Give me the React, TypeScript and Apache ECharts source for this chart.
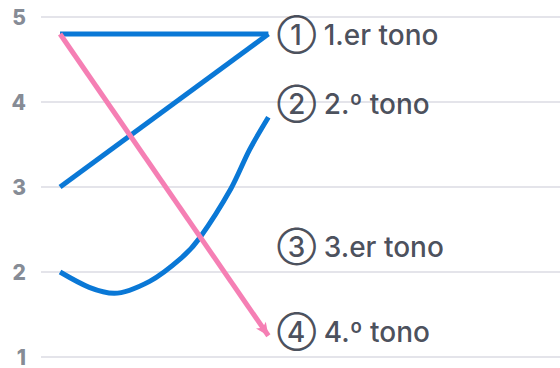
import React, { useEffect, useRef } from "react";
import * as echarts from "echarts";

const yTicks = [1, 2, 3, 4, 5];
const tone1 = [[0, 4.8], [1, 4.8]];
const tone2 = [[0, 3.0], [1, 4.8]];
const tone3 = [
  [0, 2.0], [0.14, 1.82], [0.26, 1.75], [0.43, 1.89], [0.58, 2.16],
  [0.67, 2.4], [0.82, 2.98], [0.91, 3.44], [1, 3.82],
];
const tone4 = [[0, 4.8], [1, 1.25]];
const labelNames = ["① 1.er tono", "② 2.º tono", "③ 3.er tono", "④ 4.º tono"];
const labelY = [4.79, 3.98, 2.3, 1.3];
const labelX = 1;

const X_MIN = -0.0915;
const BLUE = "#0a78d6";
const PINK = "#f57fb4";

export default function App() {
  const ref = useRef<HTMLDivElement>(null);
  useEffect(() => {
    if (!ref.current) return;
    const chart = echarts.init(ref.current, undefined, { renderer: "svg" });
    const lineStyle = (c: string) => ({ color: c, width: 5, cap: "butt" as const, join: "miter" as const });
    const t4 = tone4.map((p, i) =>
      i === tone4.length - 1
        ? { value: p, symbol: "arrow", symbolSize: [9, 13], symbolRotate: -145, itemStyle: { color: PINK } }
        : { value: p, symbol: "none" }
    );
    chart.setOption({
      animation: false,
      grid: { left: 41, right: 0, top: 17, bottom: 11 },
      xAxis: {
        type: "value",
        min: X_MIN,
        max: 2.4,
        show: false,
      },
      yAxis: {
        type: "value",
        min: yTicks[0],
        max: yTicks[yTicks.length - 1],
        interval: 1,
        axisLine: { show: false },
        axisTick: { show: false },
        axisLabel: { show: false },
        splitLine: { lineStyle: { color: "#e4e4ea", width: 2 } },
      },
      series: [
        { type: "line", data: tone1, showSymbol: false, symbol: "none", lineStyle: lineStyle(BLUE), z: 2 },
        { type: "line", data: tone2, showSymbol: false, symbol: "none", lineStyle: lineStyle(BLUE), z: 2 },
        { type: "line", data: tone3, smooth: 0.3, showSymbol: false, symbol: "none", lineStyle: lineStyle(BLUE), z: 2 },
        { type: "line", data: t4, showSymbol: true, lineStyle: lineStyle(PINK), z: 3 },
        {
          type: "scatter",
          symbolSize: 0,
          clip: false,
          data: yTicks.map((v) => ({ value: [X_MIN, v], name: String(v) })),
          label: {
            show: true,
            position: "left",
            distance: 15,
            formatter: (p: any) => p.name,
            color: "#656c79",
            fontSize: 21,
            fontWeight: 800,
            fontFamily: "Inter",
          },
          silent: true,
          z: 4,
        },
        {
          type: "scatter",
          symbolSize: 0,
          data: labelY.map((y, i) => ({ value: [labelX, y], name: labelNames[i] })),
          label: {
            show: true,
            position: "right",
            distance: 9,
            formatter: (p: any) => p.name,
            color: "#1b2231",
            fontSize: 28,
            fontWeight: 500,
            fontFamily: "Inter, 'Noto Sans CJK JP'",
          },
          silent: true,
          z: 4,
        },
      ],
    });
    return () => chart.dispose();
  }, []);
  return <div ref={ref} style={{ width: 560, height: 368, position: "absolute", left: 0, top: 0 }} />;
}
